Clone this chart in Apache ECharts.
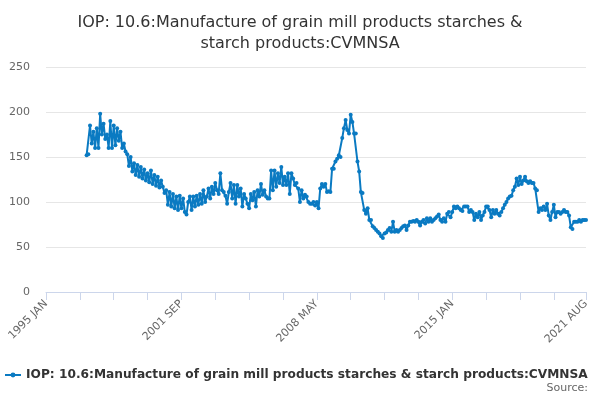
<!DOCTYPE html>
<html>
<head>
<meta charset="utf-8">
<script src="https://cdn.jsdelivr.net/npm/echarts@6/dist/echarts.min.js"></script>
<style>
  html, body { margin: 0; padding: 0; background: #fff; }
  #chart { width: 600px; height: 400px; }
</style>
</head>
<body>
<div id="chart"></div>
<script>
const seriesName = "IOP: 10.6:Manufacture of grain mill products starches & starch products:CVMNSA";
const monthNames = ["JAN", "FEB", "MAR", "APR", "MAY", "JUN", "JUL", "AUG", "SEP", "OCT", "NOV", "DEC"];
const firstYear = 1995;
const lastYear = 2021;
const lastMonth = 8; // AUG

// monthly values per year (1995 and 1996 have no data)
const v1997 = [152, 153, 185, 165, 178, 160, 182, 160, 198, 175, 187, 170];
const v1998 = [175, 160, 190, 160, 185, 163, 182, 168, 178, 160, 165, 156];
const v1999 = [153, 140, 150, 134, 143, 130, 141, 128, 139, 126, 136, 124];
const v2000 = [132, 122, 135, 120, 130, 118, 128, 116, 124, 117, 110, 113];
const v2001 = [97, 111, 95, 109, 93, 106, 91, 107, 93, 104, 89, 86];
const v2002 = [100, 106, 91, 106, 95, 107, 97, 109, 98, 113, 100, 106];
const v2003 = [115, 104, 117, 109, 121, 113, 109, 132, 113, 111, 107, 98];
const v2004 = [111, 121, 104, 119, 98, 119, 106, 115, 95, 109, 104, 98];
const v2005 = [93, 109, 102, 111, 95, 113, 106, 120, 108, 113, 106, 104];
const v2006 = [104, 135, 113, 135, 117, 132, 121, 139, 119, 128, 119, 132];
const v2007 = [109, 132, 126, 119, 121, 115, 100, 113, 104, 108, 106, 100];
const v2008 = [98, 98, 100, 96, 100, 93, 115, 120, 117, 120, 111, 112];
const v2009 = [111, 137, 137, 145, 148, 152, 150, 171, 182, 191, 180, 176];
const v2010 = [197, 189, 176, 176, 145, 134, 111, 110, 91, 87, 93, 80];
const v2011 = [80, 73, 71, 69, 67, 65, 62, 60, 65, 66, 69, 71];
const v2012 = [67, 78, 67, 69, 67, 69, 71, 73, 74, 69, 74, 78];
const v2013 = [78, 79, 78, 80, 78, 74, 78, 80, 76, 82, 78, 82];
const v2014 = [78, 80, 82, 84, 86, 80, 78, 82, 78, 87, 89, 83];
const v2015 = [89, 95, 93, 95, 93, 91, 90, 95, 95, 95, 89, 91];
const v2016 = [89, 80, 87, 83, 89, 80, 85, 89, 95, 95, 91, 83];
const v2017 = [91, 87, 91, 87, 85, 89, 93, 97, 100, 104, 106, 107];
const v2018 = [113, 117, 126, 119, 128, 120, 124, 128, 123, 121, 123, 121];
const v2019 = [121, 115, 113, 89, 93, 91, 95, 91, 98, 85, 80, 89];
const v2020 = [97, 83, 89, 89, 87, 89, 91, 89, 89, 85, 72, 70];
const v2021 = [78, 78, 78, 80, 78, 80, 80, 80];

const yTicks = [0, 50, 100, 150, 200, 250];

const months = [];
for (let y = firstYear; y <= lastYear; y++) {
  const end = y === lastYear ? lastMonth : 12;
  for (let m = 0; m < end; m++) months.push(y + " " + monthNames[m]);
}

const noData = new Array(24).fill(null);
const values = noData.concat(
  v1997, v1998, v1999, v2000, v2001, v2002, v2003, v2004, v2005,
  v2006, v2007, v2008, v2009, v2010, v2011, v2012, v2013, v2014,
  v2015, v2016, v2017, v2018, v2019, v2020, v2021
);

const lastIdx = months.length - 1;
const blue = "#0a7ac2";

const chart = echarts.init(document.getElementById("chart"));
chart.setOption({
  animation: false,
  title: {
    text: "IOP: 10.6:Manufacture of grain mill products starches &\nstarch products:CVMNSA",
    left: "center",
    top: 7,
    textStyle: { fontFamily: "DejaVu Sans", fontSize: 16, fontWeight: "normal", color: "#333333", lineHeight: 21 }
  },
  legend: {
    data: [seriesName],
    left: 0,
    top: 364,
    padding: [5, 5, 5, 4],
    itemWidth: 16,
    itemHeight: 6,
    itemGap: 6,
    textStyle: { fontFamily: "DejaVu Sans", fontSize: 12.2, fontWeight: "bold", color: "#333333" }
  },
  graphic: [{
    type: "text",
    right: 12,
    top: 383,
    style: { text: "Source:", font: "11px DejaVu Sans", fill: "#666666" }
  }],
  grid: { left: 46, right: 14, top: 67, bottom: 108 },
  xAxis: {
    type: "category",
    data: months,
    boundaryGap: false,
    axisLine: { lineStyle: { color: "#ccd6eb" } },
    axisTick: {
      length: 8,
      lineStyle: { color: "#ccd6eb" },
      interval: (i) => i % 20 === 0 || i === lastIdx
    },
    axisLabel: {
      rotate: 45,
      margin: 10,
      fontFamily: "DejaVu Sans",
      fontSize: 11,
      color: "#666666",
      interval: (i) => i % 80 === 0 || i === lastIdx
    },
    splitLine: { show: false }
  },
  yAxis: {
    type: "value",
    min: yTicks[0],
    max: yTicks[yTicks.length - 1],
    interval: 50,
    axisLine: { show: false },
    axisTick: { show: false },
    axisLabel: { margin: 16, fontFamily: "DejaVu Sans", fontSize: 11, color: "#666666" },
    splitLine: { lineStyle: { color: "#e6e6e6" } }
  },
  series: [{
    name: seriesName,
    type: "line",
    data: values,
    connectNulls: false,
    symbol: "circle",
    symbolSize: 4,
    showSymbol: true,
    showAllSymbol: true,
    itemStyle: { color: blue },
    lineStyle: { color: blue, width: 2 }
  }]
});
</script>
</body>
</html>
